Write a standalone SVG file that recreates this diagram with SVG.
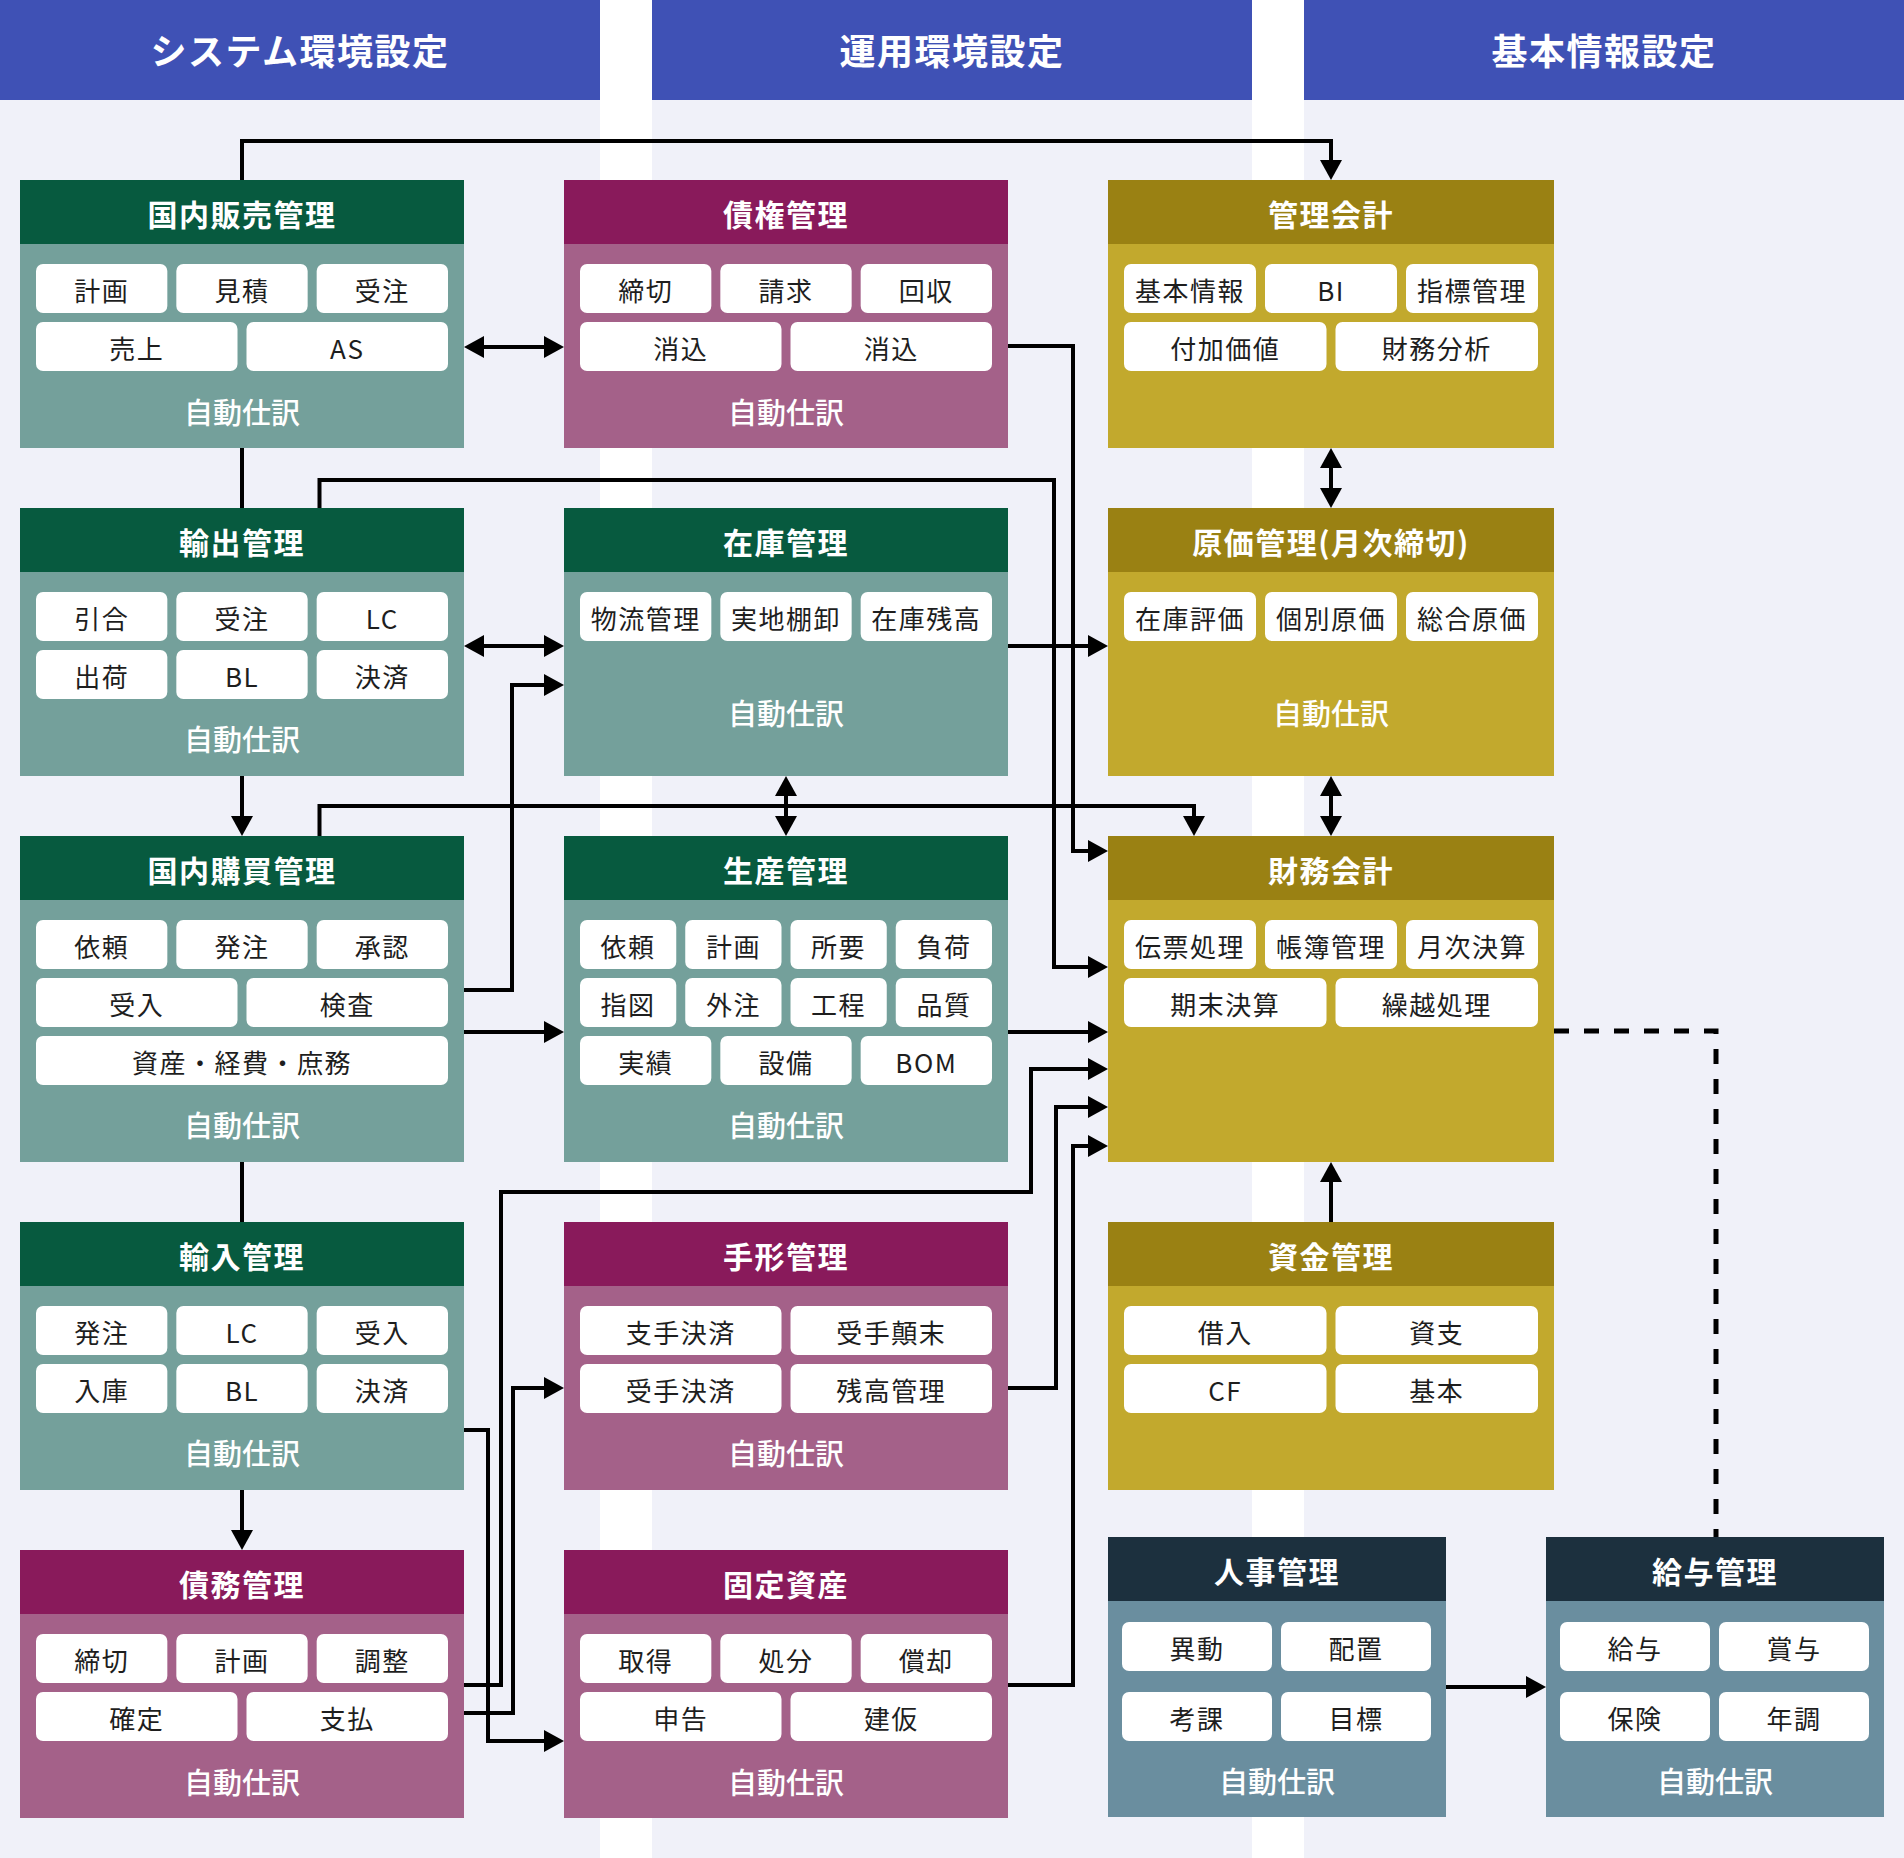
<svg xmlns="http://www.w3.org/2000/svg" width="1904" height="1858" viewBox="0 0 1904 1858">
<defs>
<style>
.bg{fill:#F0F1F9}
.stripe{fill:#FFFFFF}
.bar{fill:#3F51B5}
.ht{font-family:"Noto Sans CJK JP","Noto Sans",sans-serif;font-weight:700;font-size:36px;fill:#FFFFFF;letter-spacing:1.5px;text-anchor:middle}
.nt{font-family:"Noto Sans CJK JP","Noto Sans",sans-serif;font-weight:700;font-size:30px;fill:#FFFFFF;letter-spacing:1.5px;text-anchor:middle}
.pt{font-family:"Noto Sans CJK JP","Noto Sans",sans-serif;font-weight:400;font-size:26px;fill:#1E1E1E;letter-spacing:1.5px;text-anchor:middle}
.at{font-family:"Noto Sans CJK JP","Noto Sans",sans-serif;font-weight:500;font-size:29px;fill:#FFFFFF;text-anchor:middle}
.pill{fill:#FFFFFF}
.gh{fill:#075A3F}.gb{fill:#74A09B}
.ph{fill:#891A5B}.pb{fill:#A46189}
.yh{fill:#9A8113}.yb{fill:#C2A92D}
.nh{fill:#1C303E}.nb{fill:#6A8E9F}
.ln{fill:none;stroke:#000000;stroke-width:4}
.dash{fill:none;stroke:#000000;stroke-width:5;stroke-dasharray:15 15}
</style>
<marker id="ah" markerUnits="userSpaceOnUse" markerWidth="20" markerHeight="22" refX="12" refY="11" orient="auto-start-reverse" viewBox="0 0 20 22">
<path d="M0,0 L20,11 L0,22 Z" fill="#000000"/>
</marker>
</defs>

<rect class="bg" x="0" y="0" width="1904" height="1858"/>
<rect class="stripe" x="600" y="0" width="52" height="1858"/>
<rect class="stripe" x="1252" y="0" width="52" height="1858"/>

<g id="column-headers">
<rect class="bar" x="0" y="0" width="600" height="100"/>
<rect class="bar" x="652" y="0" width="600" height="100"/>
<rect class="bar" x="1304" y="0" width="600" height="100"/>
<text class="ht" x="300" y="65">システム環境設定</text>
<text class="ht" x="952" y="65">運用環境設定</text>
<text class="ht" x="1604" y="65">基本情報設定</text>
</g>

<g id="connectors">
<path class="ln" d="M242,180 V141 H1331 V172" marker-end="url(#ah)"/>
<path class="ln" d="M242,448 V508"/>
<path class="ln" d="M242,776 V828" marker-end="url(#ah)"/>
<path class="ln" d="M242,1162 V1222"/>
<path class="ln" d="M242,1490 V1542" marker-end="url(#ah)"/>
<path class="ln" d="M472,347 H556" marker-start="url(#ah)" marker-end="url(#ah)"/>
<path class="ln" d="M1008,346 H1073 V851 H1100" marker-end="url(#ah)"/>
<path class="ln" d="M319.5,508 V480 H1054 V967 H1100" marker-end="url(#ah)"/>
<path class="ln" d="M472,646 H556" marker-start="url(#ah)" marker-end="url(#ah)"/>
<path class="ln" d="M464,990 H512 V685 H556" marker-end="url(#ah)"/>
<path class="ln" d="M464,1032 H556" marker-end="url(#ah)"/>
<path class="ln" d="M1008,646 H1100" marker-end="url(#ah)"/>
<path class="ln" d="M786,784 V828" marker-start="url(#ah)" marker-end="url(#ah)"/>
<path class="ln" d="M319.5,836 V806 H1194 V828" marker-end="url(#ah)"/>
<path class="ln" d="M1008,1032 H1100" marker-end="url(#ah)"/>
<path class="ln" d="M1331,456 V500" marker-start="url(#ah)" marker-end="url(#ah)"/>
<path class="ln" d="M1331,784 V828" marker-start="url(#ah)" marker-end="url(#ah)"/>
<path class="dash" d="M1554,1031 H1716 V1537"/>
<path class="ln" d="M1331,1222 V1170" marker-end="url(#ah)"/>
<path class="ln" d="M1446,1687 H1538" marker-end="url(#ah)"/>
<path class="ln" d="M464,1685 H501 V1192 H1031 V1069 H1100" marker-end="url(#ah)"/>
<path class="ln" d="M464,1713 H513 V1388 H556" marker-end="url(#ah)"/>
<path class="ln" d="M464,1430 H488 V1741 H556" marker-end="url(#ah)"/>
<path class="ln" d="M1008,1388 H1056 V1107 H1100" marker-end="url(#ah)"/>
<path class="ln" d="M1008,1685 H1073 V1146 H1100" marker-end="url(#ah)"/>
</g>

<g id="node-kokunai-hanbai">
<rect class="gb" x="20" y="180" width="444" height="268"/>
<rect class="gh" x="20" y="180" width="444" height="64"/>
<text class="nt" x="242" y="226">国内販売管理</text>
<rect class="pill" x="36" y="264" width="131.33" height="49" rx="7"/>
<rect class="pill" x="176.33" y="264" width="131.33" height="49" rx="7"/>
<rect class="pill" x="316.67" y="264" width="131.33" height="49" rx="7"/>
<rect class="pill" x="36" y="322" width="201.5" height="49" rx="7"/>
<rect class="pill" x="246.5" y="322" width="201.5" height="49" rx="7"/>
<text class="pt" x="101.67" y="301">計画</text>
<text class="pt" x="242" y="301">見積</text>
<text class="pt" x="382.33" y="301">受注</text>
<text class="pt" x="136.75" y="359">売上</text>
<text class="pt" x="347.25" y="359">AS</text>
<text class="at" x="242" y="424">自動仕訳</text>
</g>

<g id="node-saiken">
<rect class="pb" x="564" y="180" width="444" height="268"/>
<rect class="ph" x="564" y="180" width="444" height="64"/>
<text class="nt" x="786" y="226">債権管理</text>
<rect class="pill" x="580" y="264" width="131.33" height="49" rx="7"/>
<rect class="pill" x="720.33" y="264" width="131.33" height="49" rx="7"/>
<rect class="pill" x="860.67" y="264" width="131.33" height="49" rx="7"/>
<rect class="pill" x="580" y="322" width="201.5" height="49" rx="7"/>
<rect class="pill" x="790.5" y="322" width="201.5" height="49" rx="7"/>
<text class="pt" x="645.67" y="301">締切</text>
<text class="pt" x="786" y="301">請求</text>
<text class="pt" x="926.33" y="301">回収</text>
<text class="pt" x="680.75" y="359">消込</text>
<text class="pt" x="891.25" y="359">消込</text>
<text class="at" x="786" y="424">自動仕訳</text>
</g>

<g id="node-kanri-kaikei">
<rect class="yb" x="1108" y="180" width="446" height="268"/>
<rect class="yh" x="1108" y="180" width="446" height="64"/>
<text class="nt" x="1331" y="226">管理会計</text>
<rect class="pill" x="1124" y="264" width="132" height="49" rx="7"/>
<rect class="pill" x="1265" y="264" width="132" height="49" rx="7"/>
<rect class="pill" x="1406" y="264" width="132" height="49" rx="7"/>
<rect class="pill" x="1124" y="322" width="202.5" height="49" rx="7"/>
<rect class="pill" x="1335.5" y="322" width="202.5" height="49" rx="7"/>
<text class="pt" x="1190" y="301">基本情報</text>
<text class="pt" x="1331" y="301">BI</text>
<text class="pt" x="1472" y="301">指標管理</text>
<text class="pt" x="1225.25" y="359">付加価値</text>
<text class="pt" x="1436.75" y="359">財務分析</text>
</g>

<g id="node-yushutsu">
<rect class="gb" x="20" y="508" width="444" height="268"/>
<rect class="gh" x="20" y="508" width="444" height="64"/>
<text class="nt" x="242" y="554">輸出管理</text>
<rect class="pill" x="36" y="592" width="131.33" height="49" rx="7"/>
<rect class="pill" x="176.33" y="592" width="131.33" height="49" rx="7"/>
<rect class="pill" x="316.67" y="592" width="131.33" height="49" rx="7"/>
<rect class="pill" x="36" y="650" width="131.33" height="49" rx="7"/>
<rect class="pill" x="176.33" y="650" width="131.33" height="49" rx="7"/>
<rect class="pill" x="316.67" y="650" width="131.33" height="49" rx="7"/>
<text class="pt" x="101.67" y="629">引合</text>
<text class="pt" x="242" y="629">受注</text>
<text class="pt" x="382.33" y="629">LC</text>
<text class="pt" x="101.67" y="687">出荷</text>
<text class="pt" x="242" y="687">BL</text>
<text class="pt" x="382.33" y="687">決済</text>
<text class="at" x="242" y="751">自動仕訳</text>
</g>

<g id="node-zaiko">
<rect class="gb" x="564" y="508" width="444" height="268"/>
<rect class="gh" x="564" y="508" width="444" height="64"/>
<text class="nt" x="786" y="554">在庫管理</text>
<rect class="pill" x="580" y="592" width="131.33" height="49" rx="7"/>
<rect class="pill" x="720.33" y="592" width="131.33" height="49" rx="7"/>
<rect class="pill" x="860.67" y="592" width="131.33" height="49" rx="7"/>
<text class="pt" x="645.67" y="629">物流管理</text>
<text class="pt" x="786" y="629">実地棚卸</text>
<text class="pt" x="926.33" y="629">在庫残高</text>
<text class="at" x="786" y="725">自動仕訳</text>
</g>

<g id="node-genka">
<rect class="yb" x="1108" y="508" width="446" height="268"/>
<rect class="yh" x="1108" y="508" width="446" height="64"/>
<text class="nt" x="1331" y="554">原価管理(月次締切)</text>
<rect class="pill" x="1124" y="592" width="132" height="49" rx="7"/>
<rect class="pill" x="1265" y="592" width="132" height="49" rx="7"/>
<rect class="pill" x="1406" y="592" width="132" height="49" rx="7"/>
<text class="pt" x="1190" y="629">在庫評価</text>
<text class="pt" x="1331" y="629">個別原価</text>
<text class="pt" x="1472" y="629">総合原価</text>
<text class="at" x="1331" y="725">自動仕訳</text>
</g>

<g id="node-kokunai-kobai">
<rect class="gb" x="20" y="836" width="444" height="326"/>
<rect class="gh" x="20" y="836" width="444" height="64"/>
<text class="nt" x="242" y="882">国内購買管理</text>
<rect class="pill" x="36" y="920" width="131.33" height="49" rx="7"/>
<rect class="pill" x="176.33" y="920" width="131.33" height="49" rx="7"/>
<rect class="pill" x="316.67" y="920" width="131.33" height="49" rx="7"/>
<rect class="pill" x="36" y="978" width="201.5" height="49" rx="7"/>
<rect class="pill" x="246.5" y="978" width="201.5" height="49" rx="7"/>
<rect class="pill" x="36" y="1036" width="412" height="49" rx="7"/>
<text class="pt" x="101.67" y="957">依頼</text>
<text class="pt" x="242" y="957">発注</text>
<text class="pt" x="382.33" y="957">承認</text>
<text class="pt" x="136.75" y="1015">受入</text>
<text class="pt" x="347.25" y="1015">検査</text>
<text class="pt" x="242" y="1073">資産・経費・庶務</text>
<text class="at" x="242" y="1137">自動仕訳</text>
</g>

<g id="node-seisan">
<rect class="gb" x="564" y="836" width="444" height="326"/>
<rect class="gh" x="564" y="836" width="444" height="64"/>
<text class="nt" x="786" y="882">生産管理</text>
<rect class="pill" x="580" y="920" width="96.25" height="49" rx="7"/>
<rect class="pill" x="685.25" y="920" width="96.25" height="49" rx="7"/>
<rect class="pill" x="790.5" y="920" width="96.25" height="49" rx="7"/>
<rect class="pill" x="895.75" y="920" width="96.25" height="49" rx="7"/>
<rect class="pill" x="580" y="978" width="96.25" height="49" rx="7"/>
<rect class="pill" x="685.25" y="978" width="96.25" height="49" rx="7"/>
<rect class="pill" x="790.5" y="978" width="96.25" height="49" rx="7"/>
<rect class="pill" x="895.75" y="978" width="96.25" height="49" rx="7"/>
<rect class="pill" x="580" y="1036" width="131.33" height="49" rx="7"/>
<rect class="pill" x="720.33" y="1036" width="131.33" height="49" rx="7"/>
<rect class="pill" x="860.67" y="1036" width="131.33" height="49" rx="7"/>
<text class="pt" x="628.1" y="957">依頼</text>
<text class="pt" x="733.4" y="957">計画</text>
<text class="pt" x="838.6" y="957">所要</text>
<text class="pt" x="943.9" y="957">負荷</text>
<text class="pt" x="628.1" y="1015">指図</text>
<text class="pt" x="733.4" y="1015">外注</text>
<text class="pt" x="838.6" y="1015">工程</text>
<text class="pt" x="943.9" y="1015">品質</text>
<text class="pt" x="645.67" y="1073">実績</text>
<text class="pt" x="786" y="1073">設備</text>
<text class="pt" x="926.33" y="1073">BOM</text>
<text class="at" x="786" y="1137">自動仕訳</text>
</g>

<g id="node-zaimu-kaikei">
<rect class="yb" x="1108" y="836" width="446" height="326"/>
<rect class="yh" x="1108" y="836" width="446" height="64"/>
<text class="nt" x="1331" y="882">財務会計</text>
<rect class="pill" x="1124" y="920" width="132" height="49" rx="7"/>
<rect class="pill" x="1265" y="920" width="132" height="49" rx="7"/>
<rect class="pill" x="1406" y="920" width="132" height="49" rx="7"/>
<rect class="pill" x="1124" y="978" width="202.5" height="49" rx="7"/>
<rect class="pill" x="1335.5" y="978" width="202.5" height="49" rx="7"/>
<text class="pt" x="1190" y="957">伝票処理</text>
<text class="pt" x="1331" y="957">帳簿管理</text>
<text class="pt" x="1472" y="957">月次決算</text>
<text class="pt" x="1225.25" y="1015">期末決算</text>
<text class="pt" x="1436.75" y="1015">繰越処理</text>
</g>

<g id="node-yunyu">
<rect class="gb" x="20" y="1222" width="444" height="268"/>
<rect class="gh" x="20" y="1222" width="444" height="64"/>
<text class="nt" x="242" y="1268">輸入管理</text>
<rect class="pill" x="36" y="1306" width="131.33" height="49" rx="7"/>
<rect class="pill" x="176.33" y="1306" width="131.33" height="49" rx="7"/>
<rect class="pill" x="316.67" y="1306" width="131.33" height="49" rx="7"/>
<rect class="pill" x="36" y="1364" width="131.33" height="49" rx="7"/>
<rect class="pill" x="176.33" y="1364" width="131.33" height="49" rx="7"/>
<rect class="pill" x="316.67" y="1364" width="131.33" height="49" rx="7"/>
<text class="pt" x="101.67" y="1343">発注</text>
<text class="pt" x="242" y="1343">LC</text>
<text class="pt" x="382.33" y="1343">受入</text>
<text class="pt" x="101.67" y="1401">入庫</text>
<text class="pt" x="242" y="1401">BL</text>
<text class="pt" x="382.33" y="1401">決済</text>
<text class="at" x="242" y="1465">自動仕訳</text>
</g>

<g id="node-tegata">
<rect class="pb" x="564" y="1222" width="444" height="268"/>
<rect class="ph" x="564" y="1222" width="444" height="64"/>
<text class="nt" x="786" y="1268">手形管理</text>
<rect class="pill" x="580" y="1306" width="201.5" height="49" rx="7"/>
<rect class="pill" x="790.5" y="1306" width="201.5" height="49" rx="7"/>
<rect class="pill" x="580" y="1364" width="201.5" height="49" rx="7"/>
<rect class="pill" x="790.5" y="1364" width="201.5" height="49" rx="7"/>
<text class="pt" x="680.75" y="1343">支手決済</text>
<text class="pt" x="891.25" y="1343">受手顛末</text>
<text class="pt" x="680.75" y="1401">受手決済</text>
<text class="pt" x="891.25" y="1401">残高管理</text>
<text class="at" x="786" y="1465">自動仕訳</text>
</g>

<g id="node-shikin">
<rect class="yb" x="1108" y="1222" width="446" height="268"/>
<rect class="yh" x="1108" y="1222" width="446" height="64"/>
<text class="nt" x="1331" y="1268">資金管理</text>
<rect class="pill" x="1124" y="1306" width="202.5" height="49" rx="7"/>
<rect class="pill" x="1335.5" y="1306" width="202.5" height="49" rx="7"/>
<rect class="pill" x="1124" y="1364" width="202.5" height="49" rx="7"/>
<rect class="pill" x="1335.5" y="1364" width="202.5" height="49" rx="7"/>
<text class="pt" x="1225.25" y="1343">借入</text>
<text class="pt" x="1436.75" y="1343">資支</text>
<text class="pt" x="1225.25" y="1401">CF</text>
<text class="pt" x="1436.75" y="1401">基本</text>
</g>

<g id="node-saimu">
<rect class="pb" x="20" y="1550" width="444" height="268"/>
<rect class="ph" x="20" y="1550" width="444" height="64"/>
<text class="nt" x="242" y="1596">債務管理</text>
<rect class="pill" x="36" y="1634" width="131.33" height="49" rx="7"/>
<rect class="pill" x="176.33" y="1634" width="131.33" height="49" rx="7"/>
<rect class="pill" x="316.67" y="1634" width="131.33" height="49" rx="7"/>
<rect class="pill" x="36" y="1692" width="201.5" height="49" rx="7"/>
<rect class="pill" x="246.5" y="1692" width="201.5" height="49" rx="7"/>
<text class="pt" x="101.67" y="1671">締切</text>
<text class="pt" x="242" y="1671">計画</text>
<text class="pt" x="382.33" y="1671">調整</text>
<text class="pt" x="136.75" y="1729">確定</text>
<text class="pt" x="347.25" y="1729">支払</text>
<text class="at" x="242" y="1794">自動仕訳</text>
</g>

<g id="node-kotei-shisan">
<rect class="pb" x="564" y="1550" width="444" height="268"/>
<rect class="ph" x="564" y="1550" width="444" height="64"/>
<text class="nt" x="786" y="1596">固定資産</text>
<rect class="pill" x="580" y="1634" width="131.33" height="49" rx="7"/>
<rect class="pill" x="720.33" y="1634" width="131.33" height="49" rx="7"/>
<rect class="pill" x="860.67" y="1634" width="131.33" height="49" rx="7"/>
<rect class="pill" x="580" y="1692" width="201.5" height="49" rx="7"/>
<rect class="pill" x="790.5" y="1692" width="201.5" height="49" rx="7"/>
<text class="pt" x="645.67" y="1671">取得</text>
<text class="pt" x="786" y="1671">処分</text>
<text class="pt" x="926.33" y="1671">償却</text>
<text class="pt" x="680.75" y="1729">申告</text>
<text class="pt" x="891.25" y="1729">建仮</text>
<text class="at" x="786" y="1794">自動仕訳</text>
</g>

<g id="node-jinji">
<rect class="nb" x="1108" y="1537" width="338" height="280"/>
<rect class="nh" x="1108" y="1537" width="338" height="64"/>
<text class="nt" x="1277" y="1583">人事管理</text>
<rect class="pill" x="1122" y="1622" width="150" height="49" rx="7"/>
<rect class="pill" x="1281" y="1622" width="150" height="49" rx="7"/>
<rect class="pill" x="1122" y="1692" width="150" height="49" rx="7"/>
<rect class="pill" x="1281" y="1692" width="150" height="49" rx="7"/>
<text class="pt" x="1197" y="1659">異動</text>
<text class="pt" x="1356" y="1659">配置</text>
<text class="pt" x="1197" y="1729">考課</text>
<text class="pt" x="1356" y="1729">目標</text>
<text class="at" x="1277" y="1793">自動仕訳</text>
</g>

<g id="node-kyuyo">
<rect class="nb" x="1546" y="1537" width="338" height="280"/>
<rect class="nh" x="1546" y="1537" width="338" height="64"/>
<text class="nt" x="1715" y="1583">給与管理</text>
<rect class="pill" x="1560" y="1622" width="150" height="49" rx="7"/>
<rect class="pill" x="1719" y="1622" width="150" height="49" rx="7"/>
<rect class="pill" x="1560" y="1692" width="150" height="49" rx="7"/>
<rect class="pill" x="1719" y="1692" width="150" height="49" rx="7"/>
<text class="pt" x="1635" y="1659">給与</text>
<text class="pt" x="1794" y="1659">賞与</text>
<text class="pt" x="1635" y="1729">保険</text>
<text class="pt" x="1794" y="1729">年調</text>
<text class="at" x="1715" y="1793">自動仕訳</text>
</g>
</svg>
